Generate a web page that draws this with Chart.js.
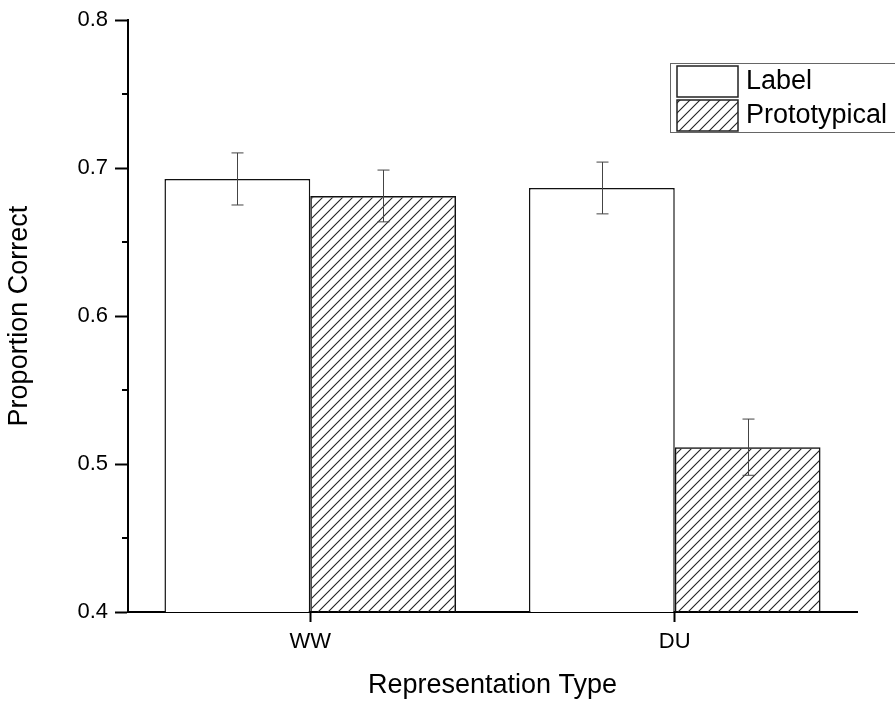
<!DOCTYPE html>
<html>
<head>
<meta charset="utf-8">
<script src="https://cdn.jsdelivr.net/npm/chart.js@4.4.0/dist/chart.umd.min.js"></script>
<style>
  html, body { margin: 0; padding: 0; background: #fff; }
  #wrap { width: 895px; height: 704px; }
</style>
</head>
<body>
<div id="wrap"><canvas id="mycanvas" width="895" height="704"></canvas></div>
<script>
var categories = ["WW", "DU"];
var labelValues = [0.6927, 0.6866];
var labelErrors = [0.0176, 0.0175];
var protoValues = [0.6812, 0.5114];
var protoErrors = [0.0175, 0.0190];
var yTicks = [0.4, 0.5, 0.6, 0.7, 0.8];
var yMinorTicks = [0.45, 0.55, 0.65, 0.75];

// diagonal hatch fill for the Prototypical bars
function makeHatch() {
  var c = document.createElement("canvas");
  c.width = 10; c.height = 10;
  var g = c.getContext("2d");
  g.strokeStyle = "#222";
  g.lineWidth = 1.1;
  g.beginPath();
  g.moveTo(0, 10); g.lineTo(10, 0);
  g.moveTo(-5, 5); g.lineTo(5, -5);
  g.moveTo(5, 15); g.lineTo(15, 5);
  g.stroke();
  return g.createPattern(c, "repeat");
}
var hatch = makeHatch();

var errors = [labelErrors, protoErrors];

var extras = {
  id: "extras",
  afterDatasetsDraw: function(chart) {
    var ctx = chart.ctx;
    var y = chart.scales.y;
    ctx.save();
    // error bars
    ctx.strokeStyle = "#444";
    ctx.lineWidth = 1;
    chart.data.datasets.forEach(function(ds, di) {
      var meta = chart.getDatasetMeta(di);
      meta.data.forEach(function(bar, i) {
        var v = ds.data[i], e = errors[di][i];
        var x = Math.round(bar.x) + 0.5;
        var top = y.getPixelForValue(v + e);
        var bot = y.getPixelForValue(v - e);
        ctx.beginPath();
        ctx.moveTo(x, top); ctx.lineTo(x, bot);
        ctx.moveTo(x - 6, top); ctx.lineTo(x + 6, top);
        ctx.moveTo(x - 6, bot); ctx.lineTo(x + 6, bot);
        ctx.stroke();
      });
    });
    // minor ticks on the y axis
    ctx.strokeStyle = "#000";
    ctx.lineWidth = 2;
    var left = chart.chartArea.left;
    yMinorTicks.forEach(function(t) {
      var py = Math.round(y.getPixelForValue(t));
      ctx.beginPath();
      ctx.moveTo(left - 6, py); ctx.lineTo(left, py);
      ctx.stroke();
    });
    ctx.restore();
  },
  afterDraw: function(chart) {
    // legend box in the top right corner
    var ctx = chart.ctx;
    ctx.save();
    ctx.strokeStyle = "#666";
    ctx.lineWidth = 1;
    ctx.strokeRect(670.5, 63.5, 240, 69);
    var rows = [
      { y: 66, fill: "#fff", text: chart.data.datasets[0].label },
      { y: 100, fill: hatch, text: chart.data.datasets[1].label }
    ];
    ctx.font = "27px 'Liberation Sans', Arial, sans-serif";
    ctx.textBaseline = "middle";
    rows.forEach(function(r) {
      ctx.fillStyle = r.fill;
      ctx.fillRect(677, r.y, 61, 31);
      ctx.strokeStyle = "#222";
      ctx.lineWidth = 1.5;
      ctx.strokeRect(677, r.y, 61, 31);
      ctx.fillStyle = "#000";
      ctx.fillText(r.text, 746, r.y + 16);
    });
    ctx.restore();
  }
};

var chartdata = {
  labels: categories,
  datasets: [
    {
      label: "Label",
      data: labelValues,
      backgroundColor: "#fff",
      borderColor: "#111",
      borderWidth: 1.5,
      borderSkipped: false,
      categoryPercentage: 0.8,
      barPercentage: 1.0
    },
    {
      label: "Prototypical",
      data: protoValues,
      backgroundColor: hatch,
      borderColor: "#111",
      borderWidth: 1.5,
      borderSkipped: false,
      categoryPercentage: 0.8,
      barPercentage: 1.0
    }
  ]
};

var tickFont = { family: "'Liberation Sans', Arial, sans-serif", size: 22 };
var titleFont = { family: "'Liberation Sans', Arial, sans-serif", size: 27 };

new Chart(document.getElementById("mycanvas"), {
  type: "bar",
  data: chartdata,
  plugins: [extras],
  options: {
    responsive: false,
    animation: false,
    layout: { padding: { left: 0, right: 38, top: 20, bottom: 0 } },
    plugins: {
      legend: { display: false },
      tooltip: { enabled: false }
    },
    scales: {
      x: {
        offset: true,
        border: { color: "#000", width: 2 },
        grid: {
          offset: false,
          drawOnChartArea: false,
          tickLength: 10,
          tickColor: "#000",
          tickWidth: 2
        },
        ticks: { color: "#000", font: tickFont, padding: 7 },
        title: {
          display: true,
          text: "Representation Type",
          color: "#000",
          font: titleFont,
          padding: { top: 2, bottom: 2 }
        },
        afterFit: function(s) { s.height = 92; }
      },
      y: {
        min: 0.4,
        max: 0.8,
        border: { color: "#000", width: 2 },
        grid: {
          drawOnChartArea: false,
          tickLength: 13,
          tickColor: "#000",
          tickWidth: 2
        },
        afterBuildTicks: function(s) {
          s.ticks = yTicks.map(function(v) { return { value: v }; });
        },
        ticks: {
          color: "#000",
          font: tickFont,
          padding: 7,
          callback: function(v) { return v.toFixed(1); }
        },
        title: {
          display: true,
          text: "Proportion Correct",
          color: "#000",
          font: titleFont,
          padding: { top: 3, bottom: 3 }
        },
        afterFit: function(s) { s.width = 128; }
      }
    }
  }
});
</script>
</body>
</html>
